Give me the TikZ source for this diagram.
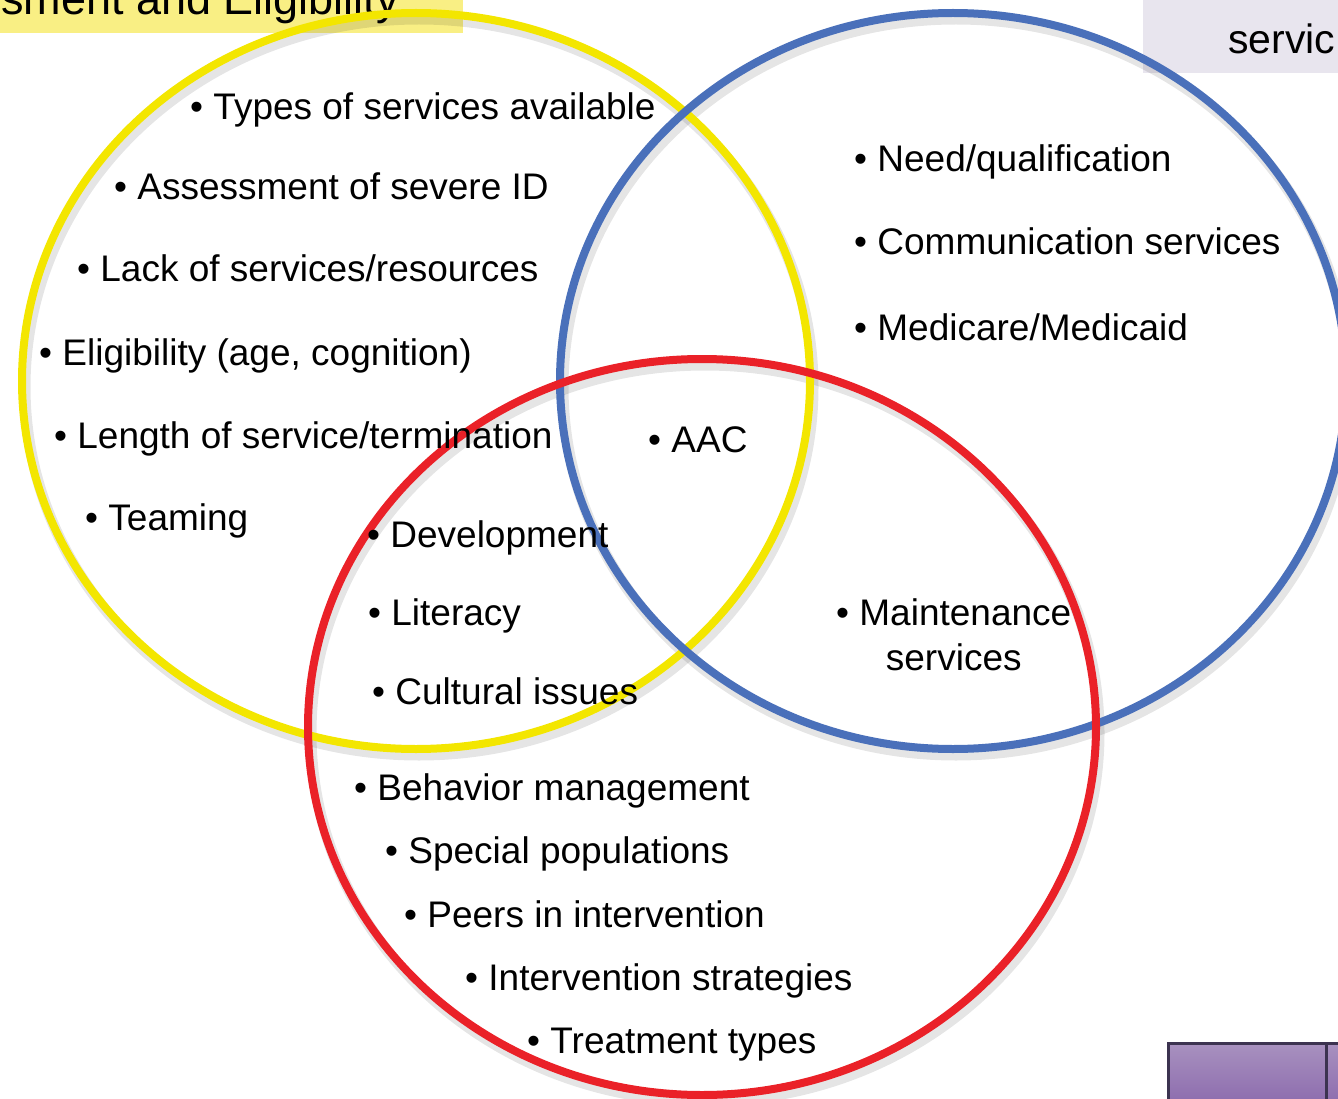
\documentclass[tikz,border=0pt]{standalone}
\usepackage{fontspec}
\setmainfont{Liberation Sans}
\usepackage{tikz}
\usetikzlibrary{positioning}
\definecolor{ringyellow}{HTML}{F3E600}
\definecolor{ringblue}{HTML}{4A70BA}
\definecolor{ringred}{HTML}{EA2128}
\definecolor{titleyellow}{HTML}{F9EF84}
\definecolor{titlelilac}{HTML}{E8E5EE}
\definecolor{btnedge}{HTML}{3C3350}
\definecolor{btntop}{HTML}{A891BF}
\definecolor{btnbottom}{HTML}{8A68AC}
\tikzset{
  item/.style={anchor=base west, inner sep=0pt, font=\fontsize{37pt}{44pt}\selectfont},
  ring/.style={line width=8pt},
  ringshadow/.style={line width=11pt, draw=black, opacity=0.10},
}

\begin{document}
\begin{tikzpicture}[x=1pt, y=-1pt]%
\useasboundingbox (0,0) rectangle (1338,1099);%
\clip (0,0) rectangle (1338,1099);%
% title tabs cut off at the top edge
\fill[titleyellow] (0,0) rectangle (463,33);%
\node[anchor=base east, inner sep=0pt, font=\fontsize{45pt}{50pt}\selectfont] (lefttitle) at (399,15) {sment and Eligibility};%
\fill[titlelilac] (1143,0) rectangle (1338,73);%
\node[anchor=base west, inner sep=0pt, font=\fontsize{41pt}{48pt}\selectfont] (righttitle) at (1228,54) {servic};%
% soft shadows under the rings
\draw[ringshadow] (419,387) ellipse [x radius=394pt, y radius=368pt];%
\draw[ringshadow] (956,387) ellipse [x radius=393pt, y radius=368pt];%
\draw[ringshadow] (705,733) ellipse [x radius=394pt, y radius=368pt];%
% the three rings
\draw[ring, ringyellow] (416,381) ellipse [x radius=394pt, y radius=368pt];%
\draw[ring, ringblue] (953,381) ellipse [x radius=393pt, y radius=368pt];%
\draw[ring, ringred] (702,727) ellipse [x radius=394pt, y radius=368pt];%
% yellow ring
\node[item] (types) at (190,120) {• Types of services available};%
\node[item] (assess) at (114,200) {• Assessment of severe ID};%
\node[item] (lack) at (77,282) {• Lack of services/resources};%
\node[item] (elig) at (39,365) {• Eligibility (age, cognition)};%
\node[item] (length) at (54,448) {• Length of service/termination};%
\node[item] (teaming) at (85,530) {• Teaming};%
% blue ring
\node[item] (need) at (854,172) {• Need/qualification};%
\node[item] (comm) at (854,255) {• Communication services};%
\node[item] (medic) at (854,340) {• Medicare/Medicaid};%
\node[item] (maint) at (836,625) {• Maintenance};%
\node[item, anchor=base] (maint2) at ([yshift=-45pt]maint.base) {services};%
% middle of all three
\node[item] (aac) at (648,452) {• AAC};%
% yellow and red overlap
\node[item] (develop) at (367,547) {• Development};%
\node[item] (literacy) at (368,625) {• Literacy};%
\node[item] (cultural) at (372,704) {• Cultural issues};%
% red ring
\node[item] (behav) at (354,800) {• Behavior management};%
\node[item] (special) at (385,863) {• Special populations};%
\node[item] (peers) at (404,927) {• Peers in intervention};%
\node[item] (strat) at (465,990) {• Intervention strategies};%
\node[item] (treat) at (527,1053) {• Treatment types};%
% button in the lower right corner
\shade[top color=btntop, bottom color=btnbottom] (1168,1043) rectangle (1345,1110);%
\draw[btnedge, line width=3pt] (1168,1110) -- (1168,1043) -- (1345,1043);%
\draw[btnedge, line width=3pt] (1326,1043) -- (1326,1110);%
\end{tikzpicture}
\end{document}
